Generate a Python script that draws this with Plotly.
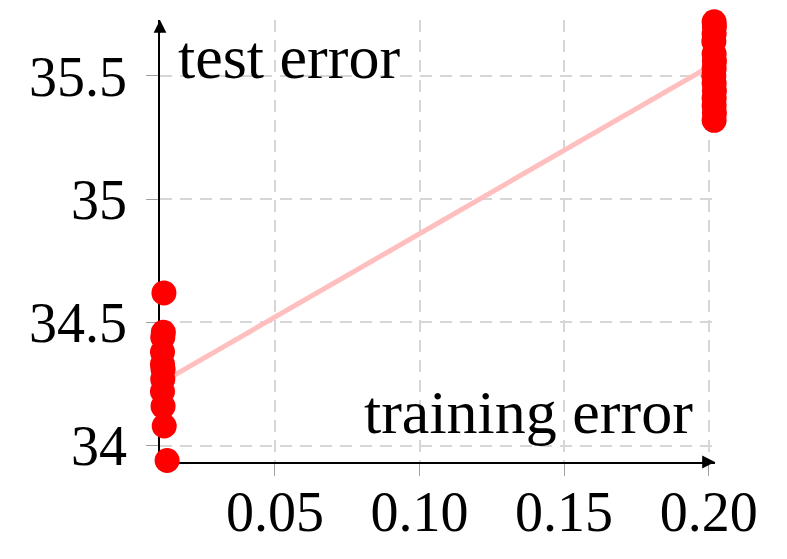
import plotly.graph_objects as go

# training error vs test error, two clusters of runs
left_x = [0.0116, 0.0114, 0.0112, 0.0111, 0.0111, 0.0113, 0.0112, 0.0111, 0.0113, 0.0117, 0.0127]
left_y = [34.62, 34.46, 34.44, 34.38, 34.33, 34.31, 34.27, 34.22, 34.16, 34.08, 33.94]

right_x = [0.2019, 0.2020, 0.2019, 0.2018, 0.2019, 0.2020, 0.2019, 0.2018, 0.2019, 0.2020, 0.2019, 0.2019, 0.2020, 0.2019]
right_y = [35.72, 35.70, 35.67, 35.64, 35.59, 35.56, 35.53, 35.50, 35.47, 35.44, 35.41, 35.38, 35.35, 35.32]

# linear fit through the runs
fit_x = [0.0113, 0.2020]
fit_y = [34.26, 35.55]

x_ticks = [0.05, 0.10, 0.15, 0.20]
x_labels = ["0.05", "0.10", "0.15", "0.20"]
y_ticks = [34, 34.5, 35, 35.5]
y_labels = ["34", "34.5", "35", "35.5"]

font = "Liberation Serif"

fig = go.Figure()
fig.add_trace(go.Scatter(
    x=fit_x, y=fit_y, mode="lines",
    line=dict(color="#ffbfbf", width=5),
    cliponaxis=False, hoverinfo="skip"
))
fig.add_trace(go.Scatter(
    x=left_x + right_x, y=left_y + right_y, mode="markers",
    marker=dict(color="red", size=25, line=dict(width=0)),
    cliponaxis=False
))

axis_common = dict(
    automargin=False,
    showgrid=True, gridcolor="#d6d6d6", gridwidth=1.5, griddash="12px,8px",
    zeroline=False, showline=True, linecolor="black", linewidth=1.6,
    ticks="outside", ticklen=12, tickwidth=1, tickcolor="#a0a0a0",
    tickfont=dict(family=font, size=56, color="black"),
    layer="below traces",
)

fig.update_xaxes(
    range=[0.01024, 0.2022], tickvals=x_ticks, ticktext=x_labels,
    ticklabelstandoff=-12, **axis_common
)
fig.update_yaxes(
    range=[33.934, 35.727], tickvals=y_ticks, ticktext=y_labels,
    ticklabelstandoff=8, **axis_common
)

# arrow heads on the axes
fig.add_annotation(
    x=1, y=0, xref="x domain", yref="y domain", ax=-14, ay=0,
    text="", showarrow=True, arrowhead=2, arrowsize=1.6, arrowwidth=1.6, arrowcolor="black"
)
fig.add_annotation(
    x=0, y=1, xref="x domain", yref="y domain", ax=0, ay=14,
    text="", showarrow=True, arrowhead=2, arrowsize=1.6, arrowwidth=1.6, arrowcolor="black"
)

# axis labels
fig.add_annotation(
    x=0, y=1, xref="x domain", yref="y domain", xanchor="left", yanchor="top",
    xshift=16, yshift=-1, showarrow=False, text="test error",
    font=dict(family=font, size=62, color="black")
)
fig.add_annotation(
    x=1, y=0, xref="x domain", yref="y domain", xanchor="right", yanchor="bottom",
    xshift=-20, yshift=14, showarrow=False, text="training error",
    font=dict(family=font, size=62, color="black")
)

# page body has an 8px margin, so the plot area is shifted back by that much
fig.update_layout(
    width=787, height=559,
    margin=dict(l=152, r=80, t=12, b=105),
    plot_bgcolor="white", paper_bgcolor="white",
    showlegend=False,
)

fig.write_html("out.html")
